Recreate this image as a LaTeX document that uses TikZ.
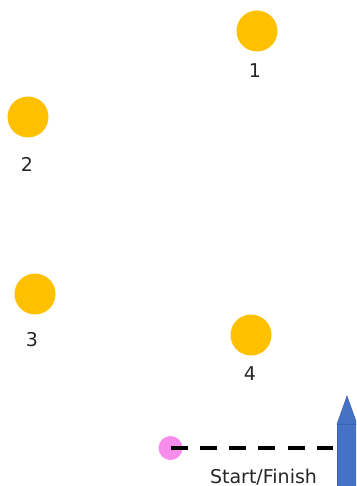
\documentclass[tikz,border=0pt]{standalone}
\usepackage{fontspec}
\setmainfont{DejaVu Sans}
\usepackage{xcolor}
\usetikzlibrary{positioning}
\definecolor{gatecol}{HTML}{FFC000}
\definecolor{postcol}{HTML}{4472C4}
\definecolor{postedge}{HTML}{3A62AC}
\definecolor{startcol}{HTML}{F78CEA}

\begin{document}
\begin{tikzpicture}[x=1pt,y=-1pt,on grid,
  gate/.style={circle,fill=gatecol,minimum size=41pt,inner sep=0pt},
  lab/.style={font=\fontsize{19}{20}\selectfont,text=black!85,inner sep=0pt}]
\clip (0,0) rectangle (356,486);
\node[gate] (g1) at (257,31) {};
\node[gate] (g2) at (28,117) {};
\node[gate] (g3) at (35,294) {};
\node[gate] (g4) at (251,335) {};
\node[lab,below=32pt of g1.center,xshift=-2pt] (l1) {1};
\node[lab,below=40pt of g2.center,xshift=-1pt] (l2) {2};
\node[lab,below=38pt of g3.center,xshift=-3pt] (l3) {3};
\node[lab,below=31pt of g4.center,xshift=-1pt] (l4) {4};
\node[circle,fill=startcol,minimum size=24pt,inner sep=0pt] (start) at (170.5,448) {};
\node[rectangle,fill=postcol,draw=postedge,line width=0.5pt,minimum width=20pt,minimum height=80pt,anchor=north west,inner sep=0pt] (post) at (337,424) {};
\fill[postcol,draw=postedge,line width=0.5pt] (337,424) -- (347,396) -- (357,424) -- cycle;
\draw[line width=4pt,dash pattern=on 17pt off 12.3pt,shorten >=4pt] (start.center) -- (start.center -| post.west);
\node[lab] (sf) at (263.5,477) {Start/Finish};
\end{tikzpicture}
\end{document}
